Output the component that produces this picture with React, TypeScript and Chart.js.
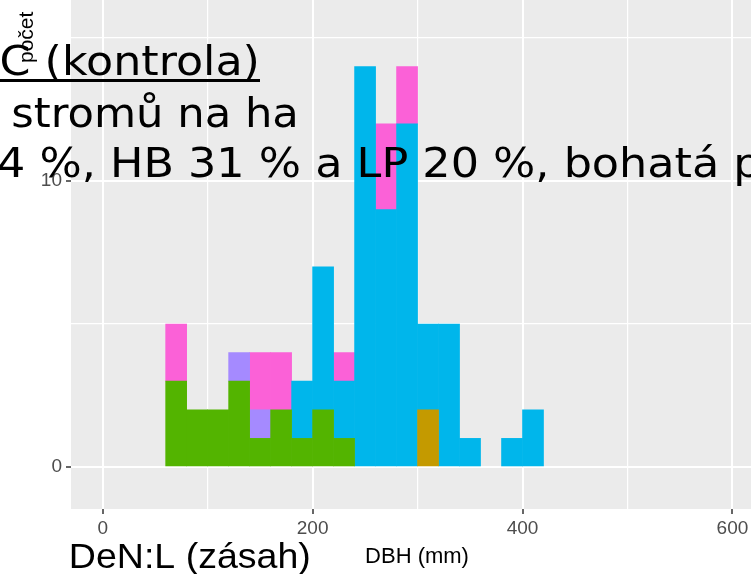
import React, { useEffect, useRef } from 'react';
import { Chart, registerables } from 'chart.js';

Chart.register(...registerables);

// DBH bins (mm): start of each 20 mm class
const binStarts = [60, 80, 100, 120, 140, 160, 180, 200, 220, 240, 260, 280, 300, 320, 340, 360, 380, 400];
const binWidth = 20;

// counts per species group (stacked bottom -> top)
const groupGold = [0, 0, 0, 0, 0, 0, 0, 0, 0, 0, 0, 0, 2, 0, 0, 0, 0, 0];
const groupGreen = [3, 2, 2, 3, 1, 2, 1, 2, 1, 0, 0, 0, 0, 0, 0, 0, 0, 0];
const groupBlue = [0, 0, 0, 0, 0, 0, 2, 5, 2, 14, 9, 12, 3, 5, 1, 0, 1, 2];
const groupPurple = [0, 0, 0, 1, 1, 0, 0, 0, 0, 0, 0, 0, 0, 0, 0, 0, 0, 0];
const groupPink = [2, 0, 0, 0, 2, 2, 0, 0, 1, 0, 3, 2, 0, 0, 0, 0, 0, 0];

const groupNames = ['skupina 2', 'skupina 3', 'skupina 5', 'skupina 6', 'skupina 7'];
const groupColors = ['#C49A00', '#53B400', '#00B6EB', '#A58AFF', '#FB61D7'];

const xTitle = 'DBH (mm)';
const yTitle = 'počet';
const slideLine1 = 'C (kontrola)';
const slideLine2 = 'stromů na ha';
const slideLine3 = '4 %, HB 31 % a LP 20 %, bohatá p';
const slideBottom = 'DeN:L (zásah)';

const xMajorStep = 200;
const yMajorStep = 10;

function drawFitted(ctx: CanvasRenderingContext2D, text: string, font: string, inkLeft: number, inkRight: number, baseline: number) {
  ctx.save();
  ctx.font = font;
  ctx.textAlign = 'left';
  ctx.textBaseline = 'alphabetic';
  const m = ctx.measureText(text);
  const inkW = m.actualBoundingBoxLeft + m.actualBoundingBoxRight;
  const sx = (inkRight - inkLeft) / inkW;
  ctx.translate(inkLeft, baseline);
  ctx.scale(sx, 1);
  ctx.fillText(text, m.actualBoundingBoxLeft, 0);
  ctx.restore();
}

const overlayPlugin = {
  id: 'overlayPlugin',
  beforeDraw(chart: any) {
    const { ctx, chartArea } = chart;
    ctx.save();
    ctx.fillStyle = '#EBEBEB';
    ctx.fillRect(chartArea.left, chartArea.top, chartArea.right - chartArea.left, chartArea.bottom - chartArea.top);
    ctx.restore();
  },
  afterDraw(chart: any) {
    const ctx: CanvasRenderingContext2D = chart.ctx;
    ctx.save();
    ctx.fillStyle = '#000000';

    // axis titles
    ctx.save();
    ctx.font = '21px "Liberation Sans", Arial, sans-serif';
    ctx.textAlign = 'left';
    ctx.textBaseline = 'alphabetic';
    ctx.translate(33, 63);
    ctx.rotate(-Math.PI / 2);
    ctx.fillText(yTitle, 0, 0);
    ctx.restore();

    ctx.font = '22px "Liberation Sans", Arial, sans-serif';
    ctx.textAlign = 'center';
    ctx.textBaseline = 'alphabetic';
    ctx.fillText(xTitle, 417, 563);

    // slide overlay text
    const slideFont = '40px "DejaVu Sans", Verdana, sans-serif';
    drawFitted(ctx, slideLine1, slideFont, 1.7, 257, 75);
    ctx.fillRect(0, 79, 260, 3);
    drawFitted(ctx, slideLine2, slideFont, 13.3, 295, 127);

    // line 3: anchored on "H" and final "p"
    ctx.save();
    ctx.font = slideFont;
    ctx.textAlign = 'left';
    ctx.textBaseline = 'alphabetic';
    const idxH = slideLine3.indexOf('H');
    const wA = ctx.measureText(slideLine3.slice(0, idxH)).width;
    const wB = ctx.measureText(slideLine3.slice(0, slideLine3.length - 1)).width;
    const hb = -ctx.measureText('H').actualBoundingBoxLeft;
    const sx = (736.7 - 113.3) / (wB - wA);
    const x0 = 113.3 - (wA + hb) * sx;
    ctx.translate(x0, 177);
    ctx.scale(sx, 1);
    ctx.fillText(slideLine3, 0, 0);
    ctx.restore();

    drawFitted(ctx, slideBottom, '35px "Liberation Sans", Arial, sans-serif', 71, 309, 568);

    ctx.restore();
  },
};

export default function App() {
  const canvasRef = useRef<HTMLCanvasElement | null>(null);

  useEffect(() => {
    document.body.style.margin = '0';
    const canvas = canvasRef.current;
    if (!canvas) return;
    const seriesArrays = [groupGold, groupGreen, groupBlue, groupPurple, groupPink];
    const datasets = seriesArrays.map((arr, k) => ({
      label: groupNames[k],
      data: binStarts.map((s, i) => ({ x: s + binWidth / 2, y: arr[i] === 0 ? null : arr[i] })),
      backgroundColor: groupColors[k],
      borderWidth: 0,
      barPercentage: 1,
      categoryPercentage: 1,
      skipNull: true,
    }));

    const chart = new Chart(canvas, {
      type: 'bar',
      data: { datasets },
      options: {
        animation: false,
        responsive: false,
        maintainAspectRatio: false,
        devicePixelRatio: 1,
        layout: { padding: 0 },
        plugins: { legend: { display: false }, tooltip: { enabled: false } },
        scales: {
          x: {
            type: 'linear',
            stacked: true,
            offset: false,
            min: -30.2,
            max: 617.7,
            border: { display: false },
            grid: {
              offset: false,
              color: '#FFFFFF',
              lineWidth: (c: any) => (c.tick && c.tick.value % xMajorStep === 0 ? 2 : 1.2),
              drawTicks: true,
              tickLength: 5,
              tickWidth: 1.5,
              tickColor: (c: any) => (c.tick && c.tick.value % xMajorStep === 0 ? '#333333' : 'rgba(0,0,0,0)'),
            },
            ticks: {
              stepSize: 100,
              includeBounds: false,
              autoSkip: false,
              maxRotation: 0,
              padding: 3,
              color: '#4D4D4D',
              font: { family: '"Liberation Sans", Arial, sans-serif', size: 19 },
              callback: (v: any) => (Number(v) % xMajorStep === 0 ? String(v) : ''),
            },
            afterFit: (s: any) => {
              s.height = 65;
              s.paddingLeft = 0;
              s.paddingRight = 0;
              s.paddingTop = 0;
              s.paddingBottom = 0;
            },
          },
          y: {
            type: 'linear',
            stacked: true,
            min: -1.47,
            max: 16.33,
            border: { display: false },
            grid: {
              color: '#FFFFFF',
              lineWidth: (c: any) => (c.tick && c.tick.value % yMajorStep === 0 ? 2 : 1.2),
              drawTicks: true,
              tickLength: 5,
              tickWidth: 1.5,
              tickColor: (c: any) => (c.tick && c.tick.value % yMajorStep === 0 ? '#333333' : 'rgba(0,0,0,0)'),
            },
            ticks: {
              stepSize: 5,
              includeBounds: false,
              autoSkip: false,
              padding: 4,
              color: '#4D4D4D',
              font: { family: '"Liberation Sans", Arial, sans-serif', size: 19 },
              callback: (v: any) => (Number(v) % yMajorStep === 0 ? String(v) : ''),
            },
            afterFit: (s: any) => {
              s.width = 71;
              s.paddingTop = 0;
              s.paddingBottom = 0;
              s.paddingLeft = 0;
              s.paddingRight = 0;
            },
          },
        },
      },
      plugins: [overlayPlugin],
    });
    return () => chart.destroy();
  }, []);

  return (
    <div style={{ position: 'absolute', left: 0, top: 0, width: 751, height: 574, background: '#FFFFFF' }}>
      <canvas ref={canvasRef} width={751} height={574} style={{ display: 'block', width: 751, height: 574 }} />
    </div>
  );
}
